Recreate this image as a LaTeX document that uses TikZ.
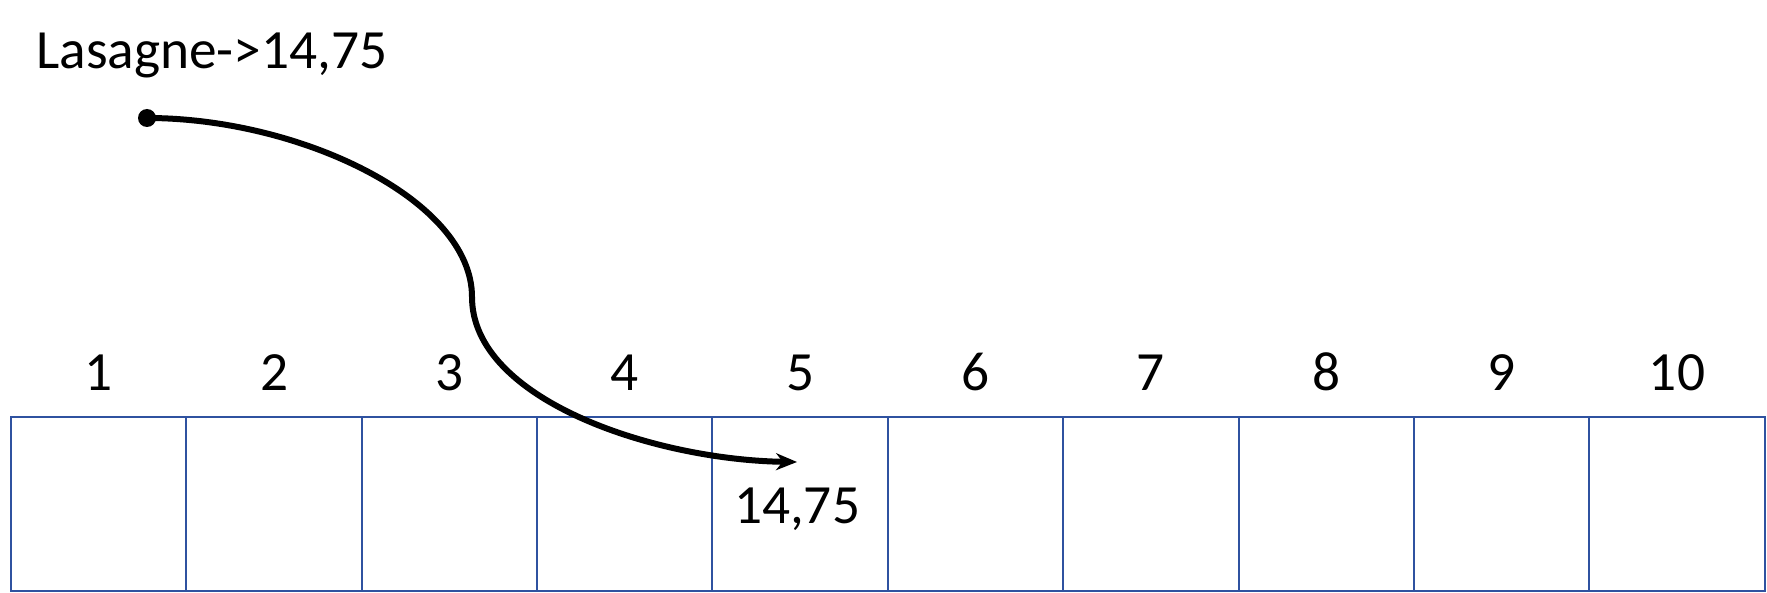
\documentclass[tikz,border=0pt]{standalone}
\usepackage{fontspec}
\setmainfont{Carlito}
\usetikzlibrary{positioning, arrows.meta}
\definecolor{cellblue}{RGB}{47,82,160}
\tikzset{
	x=0.02cm, y=0.02cm,
	node distance=0pt,
	every node/.style={font=\fontsize{31.5pt}{38pt}\selectfont, inner sep=0pt},
	cell/.style={draw=cellblue, line width=0.04cm, outer sep=0pt, minimum width=3.508cm, minimum height=3.48cm},
	num/.style={anchor=base},
	pointer/.style={line width=0.12cm, -{Stealth[length=0.42cm, width=0.34cm]}}}

\begin{document}
\begin{tikzpicture}

		\useasboundingbox (0,0) rectangle (1767,592);

		\node[cell, anchor=north west] (c1) at (11,175) {};
		\foreach \i [count=\j from 1] in {2,...,10}
			\node[cell, right=of c\j] (c\i) {};
		\foreach \i in {1,...,10}
			\node[num] (n\i) at ([yshift=0.54cm]c\i.north) {\i};

		\node[anchor=base west] (entry) at (36,523) {Lasagne->14,75};
		\node[circle, fill, minimum size=0.36cm] (src) at (147,474) {};
		\coordinate (tip) at (797,130);
		\node[num] (val) at (797,69) {14,75};

		\draw[pointer]
		(src.center) .. controls (300,474) and (472,392) .. (472,295)
		.. controls (472,192) and (655,132) .. (tip)
		;

	\end{tikzpicture}
\end{document}
